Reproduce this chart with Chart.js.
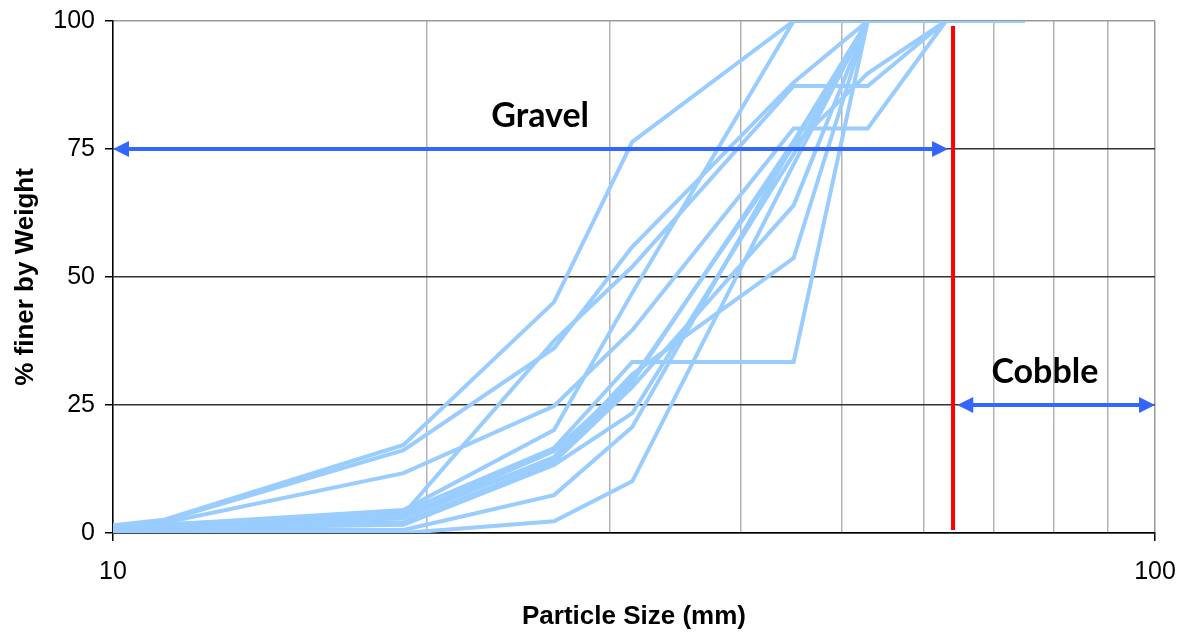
<!DOCTYPE html>
<html>
<head>
<meta charset="utf-8">
<title>Particle size distribution</title>
<script src="https://cdn.jsdelivr.net/npm/chart.js@4"></script>
<style>
  html, body { margin: 0; padding: 0; background: #fff; }
  #wrap { width: 1189px; height: 639px; }
</style>
</head>
<body>
<div id="wrap"><canvas id="chart"></canvas></div>
<script>
// sieve sizes (mm)
const sieveSizes = [10, 11.2, 19, 26.5, 31.5, 45, 53, 63, 75];

// % passing for each sample, one value per sieve size
const sample01 = [1.5, 2.6, 17.2, 45.1, 76.4, 100, 100, 100, 100];
const sample02 = [1.3, 2.4, 16.2, 36.1, 55.9, 88, 100, 100, 100];
const sample03 = [1.1, 2.0, 11.7, 24.8, 39.6, 79, 79, 100, 100];
const sample04 = [0.8, 1.6, 4.5, 20.1, 46.9, 100, 100, 100, 100];
const sample05 = [0.7, 1.4, 4.1, 16.6, 33.4, 33.4, 100, 100, 100];
const sample06 = [0.9, 1.7, 3.7, 37.5, 52, 87.3, 87.3, 100, 100];
const sample07 = [0.6, 1.2, 2.9, 14.8, 31, 53.7, 100, 100, 100];
const sample08 = [0.5, 1.0, 2.1, 13.9, 28.5, 64, 100, 100, 100];
const sample09 = [0.4, 0.9, 1.6, 13.3, 23.4, 74, 100, 100, 100];
const sample10 = [0.3, 0.6, 0.6, 7.4, 20.7, 76, 100, 100, 100];
const sample11 = [0.2, 0.3, 0, 2.3, 10.1, 72, 100, 100, 100];
const sample12 = [0.5, 1.1, 3.2, 16.0, 30, 75.6, 89.8, 100, 100];
const sample13 = [0.6, 1.3, 3.5, 14.5, 29.5, 76.5, 100, 100, 100];

const samples = [sample01, sample02, sample03, sample04, sample05, sample06, sample07,
                 sample08, sample09, sample10, sample11, sample12, sample13];

// axis ticks
const xGridSizes = [10, 20, 30, 40, 50, 60, 70, 80, 90, 100];
const xLabels = [10, 100];
const yTicks = [0, 25, 50, 75, 100];

// gravel / cobble classes
const boundarySize = 64;
const boundarySpan = [0.6, 99];
const gravelArrow = [10, 63.3];
const gravelLevel = 75;
const cobbleArrow = [64.6, 100];
const cobbleLevel = 25;
const gravelLabel = [25.7, 81.4];
const cobbleLabel = [78.4, 31.4];

const labelFont = '"Liberation Sans", Arial, sans-serif';
const arrowBlue = '#3366ff';

function drawArrow(ctx, x0, x1, yPix) {
  const head = 16, half = 8;
  ctx.strokeStyle = arrowBlue;
  ctx.fillStyle = arrowBlue;
  ctx.lineWidth = 4;
  ctx.beginPath();
  ctx.moveTo(x0 + head - 1, yPix);
  ctx.lineTo(x1 - head + 1, yPix);
  ctx.stroke();
  ctx.beginPath();
  ctx.moveTo(x0, yPix);
  ctx.lineTo(x0 + head, yPix - half);
  ctx.lineTo(x0 + head, yPix + half);
  ctx.closePath();
  ctx.fill();
  ctx.beginPath();
  ctx.moveTo(x1, yPix);
  ctx.lineTo(x1 - head, yPix - half);
  ctx.lineTo(x1 - head, yPix + half);
  ctx.closePath();
  ctx.fill();
}

const classesPlugin = {
  id: 'soilClasses',
  afterDatasetsDraw(chart) {
    const {ctx, scales: {x, y}} = chart;
    ctx.save();
    drawArrow(ctx, x.getPixelForValue(gravelArrow[0]), x.getPixelForValue(gravelArrow[1]), y.getPixelForValue(gravelLevel));
    drawArrow(ctx, x.getPixelForValue(cobbleArrow[0]), x.getPixelForValue(cobbleArrow[1]), y.getPixelForValue(cobbleLevel));

    const bx = x.getPixelForValue(boundarySize);
    ctx.strokeStyle = '#ff0000';
    ctx.lineWidth = 4;
    ctx.beginPath();
    ctx.moveTo(bx, y.getPixelForValue(boundarySpan[1]));
    ctx.lineTo(bx, y.getPixelForValue(boundarySpan[0]));
    ctx.stroke();

    ctx.fillStyle = '#000';
    ctx.font = 'bold 34px Lato, "Open Sans", sans-serif';
    ctx.textAlign = 'center';
    ctx.textBaseline = 'middle';
    ctx.fillText('Gravel', x.getPixelForValue(gravelLabel[0]), y.getPixelForValue(gravelLabel[1]));
    ctx.fillText('Cobble', x.getPixelForValue(cobbleLabel[0]), y.getPixelForValue(cobbleLabel[1]));
    ctx.restore();
  }
};

new Chart(document.getElementById('chart'), {
  type: 'line',
  data: {
    datasets: samples.map((s, k) => ({
      label: 'Sample ' + (k + 1),
      data: sieveSizes.map((d, i) => ({x: d, y: s[i]})),
      borderColor: '#99ccff',
      borderWidth: 4,
      pointRadius: 0,
      tension: 0,
      fill: false
    }))
  },
  options: {
    responsive: true,
    maintainAspectRatio: false,
    animation: false,
    events: [],
    plugins: {
      legend: {display: false},
      tooltip: {enabled: false}
    },
    layout: {padding: {top: 21, right: 34, left: 0, bottom: 0}},
    scales: {
      x: {
        type: 'logarithmic',
        min: 10,
        max: 100,
        afterBuildTicks: s => { s.ticks = xGridSizes.map(v => ({value: v})); },
        // fixed axis band; plot edges come from the layout padding only
        afterFit: s => { s.height = 106; s.paddingLeft = 0; s.paddingRight = 0; },
        ticks: {
          autoSkip: false,
          maxRotation: 0,
          padding: 16,
          color: '#000',
          font: {family: labelFont, size: 25},
          callback: v => xLabels.includes(v) ? String(v) : ''
        },
        grid: {
          color: c => c.tick && c.tick.value === 100 ? '#999' : '#b4b4b4',
          lineWidth: 1.5,
          tickLength: 8,
          tickColor: c => c.tick && xLabels.includes(c.tick.value) ? '#000' : 'rgba(0,0,0,0)'
        },
        border: {color: '#000', width: 1.5},
        title: {
          display: true,
          text: 'Particle Size (mm)',
          color: '#000',
          font: {family: labelFont, size: 26, weight: 'bold'},
          padding: {top: 0, bottom: 7}
        }
      },
      y: {
        min: 0,
        max: 100,
        afterBuildTicks: s => { s.ticks = yTicks.map(v => ({value: v})); },
        afterFit: s => { s.width = 113; s.paddingTop = 0; s.paddingBottom = 0; },
        ticks: {
          padding: 10,
          color: '#000',
          font: {family: labelFont, size: 25}
        },
        grid: {
          color: c => c.tick && c.tick.value === 100 ? '#999' : '#333',
          lineWidth: 1.5,
          tickLength: 8,
          tickColor: '#000'
        },
        border: {color: '#000', width: 1.5},
        title: {
          display: true,
          text: '% finer by Weight',
          color: '#000',
          font: {family: labelFont, size: 26, weight: 'bold'},
          padding: {top: 10, bottom: 0}
        }
      }
    }
  },
  plugins: [classesPlugin]
});
</script>
</body>
</html>
